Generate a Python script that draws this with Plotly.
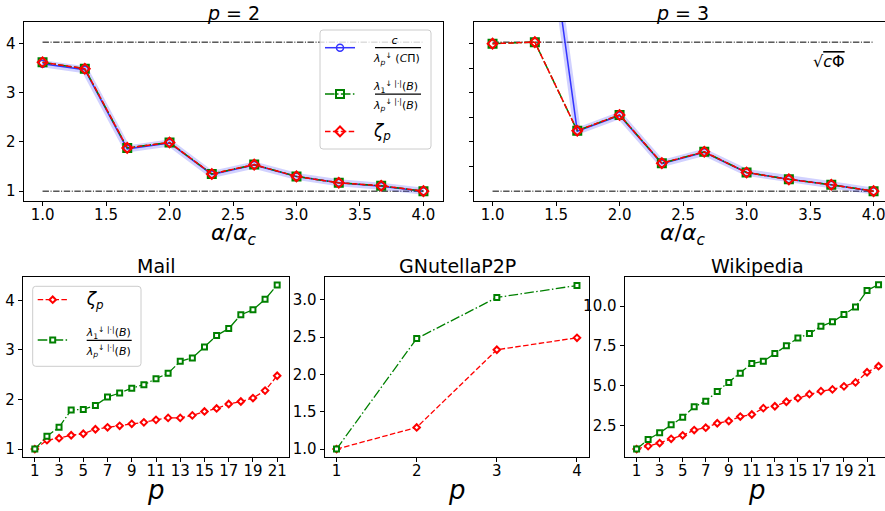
import plotly.graph_objects as go

# ---------------- data ----------------
alpha_ratio = [1.0, 1.333, 1.667, 2.0, 2.333, 2.667, 3.0, 3.333, 3.667, 4.0]
p2_c_over_lambda = [3.59, 3.47, 1.86, 1.98, 1.34, 1.53, 1.30, 1.17, 1.10, 1.00]
p2_lambda_ratio = [3.62, 3.49, 1.88, 1.99, 1.35, 1.54, 1.30, 1.17, 1.11, 1.00]
p2_zeta = [3.62, 3.49, 1.88, 1.99, 1.35, 1.54, 1.30, 1.17, 1.11, 1.00]
p3_c_over_lambda = [14.0, 8.5, 2.22, 2.54, 1.56, 1.79, 1.38, 1.24, 1.13, 1.00]
p3_lambda_ratio = [4.00, 4.03, 2.23, 2.55, 1.57, 1.80, 1.38, 1.24, 1.13, 1.00]
p3_zeta = [4.00, 4.03, 2.23, 2.55, 1.57, 1.80, 1.38, 1.24, 1.13, 1.00]
bound_x = [1.0, 4.0]
lower_bound = [1.0, 1.0]
upper_bound = [4.03, 4.03]

mail_p = list(range(1, 22))
mail_zeta = [1.00, 1.18, 1.22, 1.28, 1.31, 1.40, 1.44, 1.47, 1.51, 1.54, 1.59,
             1.63, 1.63, 1.68, 1.76, 1.82, 1.91, 1.96, 2.03, 2.18, 2.48]
mail_lambda_ratio = [1.00, 1.26, 1.44, 1.79, 1.80, 1.88, 2.05, 2.13, 2.23, 2.30, 2.42,
                     2.53, 2.77, 2.84, 3.06, 3.29, 3.43, 3.71, 3.81, 4.02, 4.31]

gnutella_p = [1, 2, 3, 4]
gnutella_zeta = [1.00, 1.29, 2.33, 2.49]
gnutella_lambda_ratio = [1.00, 2.48, 3.03, 3.19]

wiki_p = list(range(1, 23))
wiki_zeta = [1.00, 1.19, 1.38, 1.65, 1.87, 2.20, 2.35, 2.63, 2.77, 3.05, 3.18,
             3.58, 3.70, 3.98, 4.21, 4.46, 4.65, 4.76, 4.95, 5.20, 5.84, 6.22]
wiki_lambda_ratio = [1.00, 1.61, 2.03, 2.54, 3.00, 3.66, 4.02, 4.63, 5.20, 5.77, 6.39,
                     6.53, 7.02, 7.51, 7.99, 8.27, 8.73, 9.01, 9.47, 9.94, 10.99, 11.35]

odd_ticks = list(range(1, 22, 2))

# ---------------- style ----------------
W, H = 885, 511
FONT = "DejaVu Sans"
DASH = "5.5px,2.4px"
DASHDOT = "9.6px,2.4px,1.5px,2.4px"
REFDASH = "6.4px,1.6px,1px,1.6px"
NB = "&nbsp;"
PAD = NB * 4


def small(t):
    return f"<span style='font-size:11px'>{PAD}{t}</span>"


LBL_C = (small(f"{NB*5}<i>c</i>") + "<br>"
         + small("<i>λ</i><sub><i>p</i></sub><sup>↓</sup> (<i>C</i>Π)"))
LBL_LAM = (small("<i>λ</i><sub>1</sub><sup>↓ |·|</sup>(<i>B</i>)") + "<br>"
           + small("<i>λ</i><sub><i>p</i></sub><sup>↓ |·|</sup>(<i>B</i>)"))
LBL_ZETA = f"<span style='font-size:11px'>{PAD}</span><span style='font-size:17px'><i>ζ</i><sub><i>p</i></sub></span>"


def px_x(a, b):
    return [a / W, b / W]


def px_y(top, bottom):
    return [1 - bottom / H, 1 - top / H]


fig = go.Figure()

# ---- top panels ----
for ax, blue, green, red, show in [
    ("", p2_c_over_lambda, p2_lambda_ratio, p2_zeta, True),
    ("2", p3_c_over_lambda, p3_lambda_ratio, p3_zeta, False),
]:
    xa, ya = "x" + ax, "y" + ax
    for ref in (lower_bound, upper_bound):
        fig.add_trace(go.Scatter(x=bound_x, y=ref, mode="lines", xaxis=xa, yaxis=ya,
                                 line=dict(color="black", width=1, dash=REFDASH),
                                 showlegend=False, hoverinfo="skip"))
    fig.add_trace(go.Scatter(x=alpha_ratio, y=blue, mode="lines", xaxis=xa, yaxis=ya,
                             line=dict(color="rgba(70,70,255,0.25)", width=7),
                             showlegend=False, hoverinfo="skip"))
    fig.add_trace(go.Scatter(
        x=alpha_ratio, y=blue, mode="lines+markers", xaxis=xa, yaxis=ya,
        line=dict(color="#3333ff", width=1.5),
        marker=dict(symbol="circle-open", size=7, color="#3333ff", line=dict(width=1.5)),
        name=LBL_C, showlegend=show, legend="legend", legendgroup="a"))
    fig.add_trace(go.Scatter(
        x=alpha_ratio, y=green, mode="lines+markers", xaxis=xa, yaxis=ya,
        line=dict(color="green", width=1.5, dash=DASHDOT),
        marker=dict(symbol="square-open", size=8, color="green", line=dict(width=2)),
        name=LBL_LAM, showlegend=show, legend="legend", legendgroup="b"))
    fig.add_trace(go.Scatter(
        x=alpha_ratio, y=red, mode="lines+markers", xaxis=xa, yaxis=ya,
        line=dict(color="red", width=1.5, dash=DASH),
        marker=dict(symbol="diamond-open", size=7.5, color="red", line=dict(width=2)),
        name=LBL_ZETA, showlegend=show, legend="legend", legendgroup="c"))

# ---- bottom panels ----
for ax, px, zeta, lam, show in [
    ("3", mail_p, mail_zeta, mail_lambda_ratio, True),
    ("4", gnutella_p, gnutella_zeta, gnutella_lambda_ratio, False),
    ("5", wiki_p, wiki_zeta, wiki_lambda_ratio, False),
]:
    xa, ya = "x" + ax, "y" + ax
    fig.add_trace(go.Scatter(
        x=px, y=zeta, mode="lines+markers", xaxis=xa, yaxis=ya,
        line=dict(color="red", width=1.3, dash=DASH),
        marker=dict(symbol="diamond", size=5, color="white", line=dict(color="red", width=2)),
        name=LBL_ZETA, showlegend=show, legend="legend2", legendgroup="d", legendrank=1))
    fig.add_trace(go.Scatter(
        x=px, y=lam, mode="lines+markers", xaxis=xa, yaxis=ya,
        line=dict(color="green", width=1.3, dash=DASHDOT),
        marker=dict(symbol="square", size=5, color="white", line=dict(color="green", width=2)),
        name=LBL_LAM, showlegend=show, legend="legend2", legendgroup="e", legendrank=2))


def axis(domain, rng, **kw):
    d = dict(domain=domain, range=rng, showline=True, mirror=True, linecolor="black",
             linewidth=1, showgrid=False, zeroline=False, ticks="outside", ticklen=4,
             tickwidth=1, tickcolor="black", tickfont=dict(family=FONT, size=15, color="black"))
    d.update(kw)
    return d


def xaxis(domain, rng, **kw):
    return axis(domain, rng, tickangle=0, ticklabelstandoff=-4, **kw)


top_y = px_y(21.5, 201)
bot_y = px_y(277.3, 457.3)

legend_common = dict(xanchor="left", yanchor="top", bgcolor="rgba(0,0,0,0)",
                     borderwidth=0, font=dict(family=FONT, size=14, color="black"),
                     traceorder="grouped")

layout = dict(
    width=W, height=H, margin=dict(l=0, r=0, t=0, b=0),
    plot_bgcolor="white", paper_bgcolor="white",
    font=dict(family=FONT, color="black"),
    xaxis=xaxis(px_x(23.5, 442.5), [0.85, 4.15], anchor="y",
                tickvals=[1.0, 1.5, 2.0, 2.5, 3.0, 3.5, 4.0], tickformat=".1f"),
    yaxis=axis(top_y, [0.80, 4.45], anchor="x", tickvals=[1, 2, 3, 4]),
    xaxis2=xaxis(px_x(473.5, 885), [0.85, 4.09], anchor="y2",
                 tickvals=[1.0, 1.5, 2.0, 2.5, 3.0, 3.5, 4.0], tickformat=".1f",
                 ticklabeloverflow="allow"),
    yaxis2=axis(top_y, [0.80, 4.45], anchor="x2",
                tickvals=[1, 1.5, 2, 2.5, 3, 3.5, 4], showticklabels=False),
    xaxis3=xaxis(px_x(22.7, 289.3), [0, 22], anchor="y3", tickvals=odd_ticks),
    yaxis3=axis(bot_y, [0.835, 4.465], anchor="x3", tickvals=[1, 2, 3, 4]),
    xaxis4=xaxis(px_x(324.5, 589), [0.85, 4.15], anchor="y4", tickvals=[1, 2, 3, 4]),
    yaxis4=axis(bot_y, [0.89, 3.30], anchor="x4",
                tickvals=[1.0, 1.5, 2.0, 2.5, 3.0], tickformat=".1f"),
    xaxis5=xaxis(px_x(624.5, 885), [-0.05, 22.56], anchor="y5", tickvals=odd_ticks,
                 ticklabeloverflow="allow"),
    yaxis5=axis(bot_y, [0.485, 11.815], anchor="x5",
                tickvals=[2.5, 5.0, 7.5, 10.0], tickformat=".1f"),
    legend=dict(x=320 / W, y=1 - 23 / H, tracegroupgap=7, **legend_common),
    legend2=dict(x=32.7 / W, y=1 - 284.1 / H, tracegroupgap=10, **legend_common),
    showlegend=True,
)
fig.update_layout(**layout)

ann = []


def text(x, y, t, size, **kw):
    d = dict(x=x / W, y=1 - y / H, xref="paper", yref="paper", text=t, showarrow=False,
             font=dict(family=FONT, size=size, color="black"), xanchor="center",
             yanchor="middle")
    d.update(kw)
    ann.append(d)


text(233, 13, "<i>p</i> = 2", 19)
text(682.7, 13, "<i>p</i> = 3", 19)
text(156, 266, "Mail", 19)
text(457, 266, "GNutellaP2P", 19)
text(757, 266, "Wikipedia", 19)
alpha_title = "<i>α</i>/<i>α</i><sub><i>c</i></sub>"
text(233, 234, alpha_title, 22)
text(682.7, 234, alpha_title, 22)
for cx in (156, 457, 757):
    text(cx, 490, "<i>p</i>", 26)
ann.append(dict(x=3.65, y=3.64, xref="x2", yref="y2", showarrow=False,
                text="√<span style='text-decoration:overline'><i>c</i>Φ</span>",
                font=dict(family=FONT, size=16, color="black")))
fig.update_layout(annotations=ann)


# legend frames (rounded) and fraction bars
def X(v):
    return v / W


def Y(v):
    return 1 - v / H


def rrect(x0, y0, x1, y1, r=3):
    return (f"M{X(x0 + r)},{Y(y0)} L{X(x1 - r)},{Y(y0)} Q{X(x1)},{Y(y0)} {X(x1)},{Y(y0 + r)} "
            f"L{X(x1)},{Y(y1 - r)} Q{X(x1)},{Y(y1)} {X(x1 - r)},{Y(y1)} "
            f"L{X(x0 + r)},{Y(y1)} Q{X(x0)},{Y(y1)} {X(x0)},{Y(y1 - r)} "
            f"L{X(x0)},{Y(y0 + r)} Q{X(x0)},{Y(y0)} {X(x0 + r)},{Y(y0)} Z")


shapes = []
for box in [(320, 30, 431, 149), (32.7, 286.3, 141, 366.3)]:
    shapes.append(dict(type="path", xref="paper", yref="paper", path=rrect(*box),
                       fillcolor="rgba(255,255,255,0.8)", line=dict(color="#cccccc", width=1),
                       layer="above"))
for a, b, y in [(375, 421, 47.7), (375, 421, 94.1), (86.7, 131.7, 340.3)]:
    shapes.append(dict(type="line", xref="paper", yref="paper", x0=X(a), x1=X(b),
                       y0=Y(y), y1=Y(y), line=dict(color="black", width=1.3), layer="above"))
fig.update_layout(shapes=shapes)

fig.write_html("out.html", config={"displayModeBar": False},
               post_script="document.body.style.margin='0';"
                           "document.body.style.overflow='hidden';")
